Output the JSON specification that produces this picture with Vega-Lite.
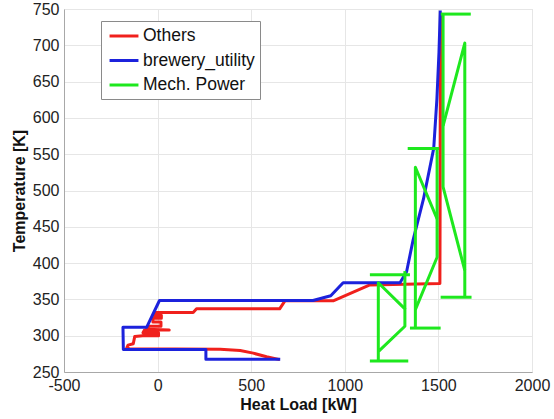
{
  "$schema": "https://vega.github.io/schema/vega-lite/v6.json",
  "autosize": {"type": "none"},
  "width": 468,
  "height": 363,
  "padding": {"left": 64, "top": 9, "right": 22, "bottom": 47},
  "background": "white",
  "config": {
    "font": "Liberation Sans",
    "view": {"stroke": "#d4d4d4", "strokeWidth": 1}
  },
  "data": {
    "values": [
      {"s": "Others", "g": "r", "i": 1, "q": 653, "t": 267},
      {"s": "Others", "g": "r", "i": 2, "q": 582, "t": 271},
      {"s": "Others", "g": "r", "i": 3, "q": 511, "t": 276},
      {"s": "Others", "g": "r", "i": 4, "q": 441, "t": 279.5},
      {"s": "Others", "g": "r", "i": 5, "q": 334, "t": 281.5},
      {"s": "Others", "g": "r", "i": 6, "q": -150, "t": 282},
      {"s": "Others", "g": "r", "i": 7, "q": -165, "t": 283},
      {"s": "Others", "g": "r", "i": 8, "q": -158, "t": 287},
      {"s": "Others", "g": "r", "i": 9, "q": -130, "t": 289},
      {"s": "Others", "g": "r", "i": 10, "q": -122, "t": 299},
      {"s": "Others", "g": "r", "i": 11, "q": -80, "t": 300},
      {"s": "Others", "g": "r", "i": 12, "q": 5, "t": 300},
      {"s": "Others", "g": "r", "i": 13, "q": 5, "t": 304},
      {"s": "Others", "g": "r", "i": 14, "q": -78, "t": 304},
      {"s": "Others", "g": "r", "i": 15, "q": -70, "t": 308},
      {"s": "Others", "g": "r", "i": 16, "q": 62, "t": 308},
      {"s": "Others", "g": "r", "i": 17, "q": -60, "t": 309},
      {"s": "Others", "g": "r", "i": 18, "q": -45, "t": 313},
      {"s": "Others", "g": "r", "i": 19, "q": 18, "t": 313},
      {"s": "Others", "g": "r", "i": 20, "q": 18, "t": 319},
      {"s": "Others", "g": "r", "i": 21, "q": -25, "t": 319},
      {"s": "Others", "g": "r", "i": 22, "q": -25, "t": 324},
      {"s": "Others", "g": "r", "i": 23, "q": 20, "t": 324},
      {"s": "Others", "g": "r", "i": 24, "q": 20, "t": 328},
      {"s": "Others", "g": "r", "i": 25, "q": -20, "t": 328},
      {"s": "Others", "g": "r", "i": 26, "q": -8, "t": 332},
      {"s": "Others", "g": "r", "i": 27, "q": 190, "t": 332},
      {"s": "Others", "g": "r", "i": 28, "q": 208, "t": 337},
      {"s": "Others", "g": "r", "i": 29, "q": 652, "t": 337},
      {"s": "Others", "g": "r", "i": 30, "q": 680, "t": 348},
      {"s": "Others", "g": "r", "i": 31, "q": 938, "t": 348},
      {"s": "Others", "g": "r", "i": 32, "q": 1134, "t": 370},
      {"s": "Others", "g": "r", "i": 33, "q": 1508, "t": 372},
      {"s": "Others", "g": "r", "i": 34, "q": 1512, "t": 745},

      {"s": "brewery_utility", "g": "b", "i": 1, "q": 655, "t": 267.5},
      {"s": "brewery_utility", "g": "b", "i": 2, "q": 258, "t": 267.5},
      {"s": "brewery_utility", "g": "b", "i": 3, "q": 258, "t": 281},
      {"s": "brewery_utility", "g": "b", "i": 4, "q": -183, "t": 281},
      {"s": "brewery_utility", "g": "b", "i": 5, "q": -185, "t": 311.7},
      {"s": "brewery_utility", "g": "b", "i": 6, "q": -58, "t": 311.7},
      {"s": "brewery_utility", "g": "b", "i": 7, "q": 10, "t": 348.5},
      {"s": "brewery_utility", "g": "b", "i": 8, "q": 830, "t": 348.5},
      {"s": "brewery_utility", "g": "b", "i": 9, "q": 925, "t": 355},
      {"s": "brewery_utility", "g": "b", "i": 10, "q": 991, "t": 373},
      {"s": "brewery_utility", "g": "b", "i": 11, "q": 1295, "t": 373},
      {"s": "brewery_utility", "g": "b", "i": 12, "q": 1330, "t": 388},
      {"s": "brewery_utility", "g": "b", "i": 13, "q": 1365, "t": 432},
      {"s": "brewery_utility", "g": "b", "i": 14, "q": 1420, "t": 488},
      {"s": "brewery_utility", "g": "b", "i": 15, "q": 1475, "t": 558},
      {"s": "brewery_utility", "g": "b", "i": 16, "q": 1492, "t": 626},
      {"s": "brewery_utility", "g": "b", "i": 17, "q": 1503, "t": 690},
      {"s": "brewery_utility", "g": "b", "i": 18, "q": 1510, "t": 748},

      {"s": "Mech. Power", "g": "m1", "i": 1, "q": 1134, "t": 265},
      {"s": "Mech. Power", "g": "m1", "i": 2, "q": 1339, "t": 265},
      {"s": "Mech. Power", "g": "m2", "i": 1, "q": 1179, "t": 265},
      {"s": "Mech. Power", "g": "m2", "i": 2, "q": 1179, "t": 373},
      {"s": "Mech. Power", "g": "m2", "i": 3, "q": 1321, "t": 337},
      {"s": "Mech. Power", "g": "m2", "i": 4, "q": 1321, "t": 313},
      {"s": "Mech. Power", "g": "m2", "i": 5, "q": 1179, "t": 278},
      {"s": "Mech. Power", "g": "m3", "i": 1, "q": 1321, "t": 337},
      {"s": "Mech. Power", "g": "m3", "i": 2, "q": 1321, "t": 389},
      {"s": "Mech. Power", "g": "m4", "i": 1, "q": 1134, "t": 384},
      {"s": "Mech. Power", "g": "m4", "i": 2, "q": 1348, "t": 384},

      {"s": "Mech. Power", "g": "m5", "i": 1, "q": 1348, "t": 310.5},
      {"s": "Mech. Power", "g": "m5", "i": 2, "q": 1512, "t": 310.5},
      {"s": "Mech. Power", "g": "m6", "i": 1, "q": 1377, "t": 310.5},
      {"s": "Mech. Power", "g": "m6", "i": 2, "q": 1377, "t": 532},
      {"s": "Mech. Power", "g": "m6", "i": 3, "q": 1493, "t": 461},
      {"s": "Mech. Power", "g": "m7", "i": 1, "q": 1377, "t": 336},
      {"s": "Mech. Power", "g": "m7", "i": 2, "q": 1493, "t": 408},
      {"s": "Mech. Power", "g": "m7", "i": 3, "q": 1493, "t": 558},
      {"s": "Mech. Power", "g": "m8", "i": 1, "q": 1336, "t": 558},
      {"s": "Mech. Power", "g": "m8", "i": 2, "q": 1504, "t": 558},

      {"s": "Mech. Power", "g": "m9", "i": 1, "q": 1512, "t": 353},
      {"s": "Mech. Power", "g": "m9", "i": 2, "q": 1677, "t": 353},
      {"s": "Mech. Power", "g": "m10", "i": 1, "q": 1641, "t": 353},
      {"s": "Mech. Power", "g": "m10", "i": 2, "q": 1641, "t": 703},
      {"s": "Mech. Power", "g": "m10", "i": 3, "q": 1525, "t": 589},
      {"s": "Mech. Power", "g": "m11", "i": 1, "q": 1641, "t": 390},
      {"s": "Mech. Power", "g": "m11", "i": 2, "q": 1525, "t": 505},
      {"s": "Mech. Power", "g": "m11", "i": 3, "q": 1525, "t": 743},
      {"s": "Mech. Power", "g": "m12", "i": 1, "q": 1513, "t": 743},
      {"s": "Mech. Power", "g": "m12", "i": 2, "q": 1673, "t": 743}
    ]
  },
  "mark": {"type": "line", "strokeWidth": 3, "strokeJoin": "round", "strokeCap": "butt"},
  "encoding": {
    "x": {
      "field": "q",
      "type": "quantitative",
      "scale": {"domain": [-500, 2000], "nice": false, "zero": false},
      "axis": {
        "title": "Heat Load [kW]",
        "values": [-500, 0, 500, 1000, 1500, 2000],
        "labelExpr": "'' + datum.value",
        "titleFontSize": 16,
        "titleFontWeight": "bold",
        "titleColor": "#111111",
        "titlePadding": 3,
        "labelFontSize": 16,
        "labelColor": "#222222",
        "labelPadding": 5,
        "labelFlush": false,
        "labelOverlap": false,
        "ticks": false,
        "domainColor": "#a8a8a8",
        "gridColor": "#e6e6e6"
      }
    },
    "y": {
      "field": "t",
      "type": "quantitative",
      "scale": {"domain": [250, 750], "nice": false, "zero": false},
      "axis": {
        "title": "Temperature [K]",
        "values": [250, 300, 350, 400, 450, 500, 550, 600, 650, 700, 750],
        "labelExpr": "'' + datum.value",
        "titleFontSize": 16,
        "titleFontWeight": "bold",
        "titleColor": "#111111",
        "titlePadding": 5,
        "labelFontSize": 16,
        "labelColor": "#222222",
        "labelPadding": 5,
        "labelFlush": false,
        "labelOverlap": false,
        "ticks": false,
        "domainColor": "#a8a8a8",
        "gridColor": "#e6e6e6"
      }
    },
    "color": {
      "field": "s",
      "type": "nominal",
      "scale": {
        "domain": ["Others", "brewery_utility", "Mech. Power"],
        "range": ["#f0201c", "#1c22dc", "#1ee81e"]
      },
      "legend": {
        "title": null,
        "orient": "none",
        "legendX": 37,
        "legendY": 12,
        "symbolType": "M-1.7,0H1.7",
        "symbolSize": 289,
        "symbolStrokeWidth": 3,
        "symbolOffset": 8,
        "labelFontSize": 17.5,
        "labelColor": "#111111",
        "labelOffset": 9,
        "labelLimit": 300,
        "rowPadding": 5.5,
        "padding": 5,
        "fillColor": "white",
        "strokeColor": "#8a8a8a"
      }
    },
    "detail": {"field": "g"},
    "order": {"field": "i", "type": "quantitative"}
  }
}
